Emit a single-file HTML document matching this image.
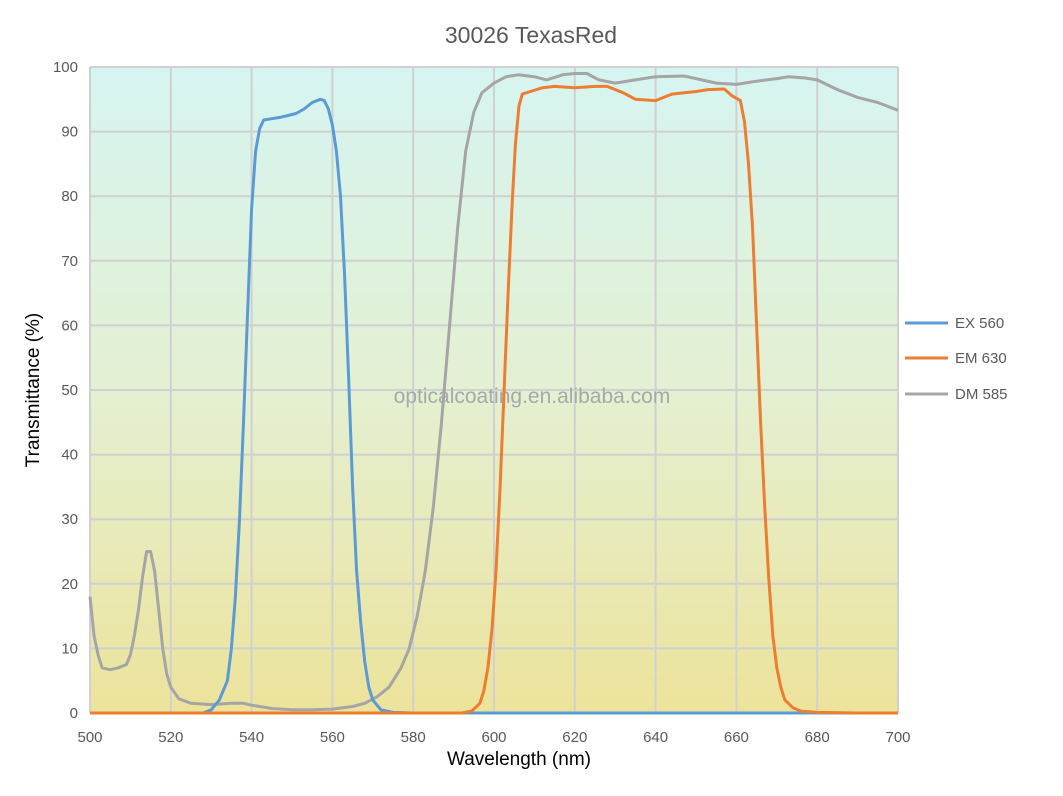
<!DOCTYPE html>
<html><head><meta charset="utf-8"><style>
body{margin:0;background:#fff;width:1063px;height:791px;overflow:hidden}
svg text{font-family:"Liberation Sans",sans-serif;fill:#595959}
</style></head><body>
<svg id="s" width="1063" height="791" xmlns="http://www.w3.org/2000/svg">
<defs><linearGradient id="g" x1="0" y1="0" x2="0" y2="1">
<stop offset="0" stop-color="#d6f4f1"/><stop offset="0.5" stop-color="#e4f0d2"/><stop offset="1" stop-color="#ece39b"/></linearGradient></defs>
<rect x="90" y="67" width="808" height="646" fill="url(#g)"/>
<g id="grid" stroke="#d0d0d0" stroke-width="2"></g>
<text x="531" y="43" font-size="23" text-anchor="middle">30026 TexasRed</text>
<text x="532" y="403" font-size="21" text-anchor="middle" fill="#a8a8a8" style="fill:#a8a8a8">opticalcoating.en.alibaba.com</text>
<text x="519" y="765" font-size="19" text-anchor="middle" style="fill:#000">Wavelength (nm)</text>
<text transform="translate(39,390) rotate(-90)" font-size="19" text-anchor="middle" style="fill:#000">Transmittance (%)</text>
<g id="lab" font-size="15"></g>
<g id="cur" fill="none" stroke-width="3" stroke-linejoin="round"></g>
<g font-size="15">
<line x1="905" y1="323" x2="948" y2="323" stroke="#5b9bd5" stroke-width="3"/><text x="955" y="328">EX 560</text>
<line x1="905" y1="358" x2="948" y2="358" stroke="#ed7d31" stroke-width="3"/><text x="955" y="363">EM 630</text>
<line x1="905" y1="394" x2="948" y2="394" stroke="#a5a5a5" stroke-width="3"/><text x="955" y="399">DM 585</text>
</g>
</svg>
<script>
var X=w=>90+(w-500)*4.04,Y=t=>713-t*6.46,ns="http://www.w3.org/2000/svg";
var grid=document.getElementById('grid'),lab=document.getElementById('lab');
function el(p,t,a,txt){var e=document.createElementNS(ns,t);for(var k in a)e.setAttribute(k,a[k]);if(txt!=null)e.textContent=txt;p.appendChild(e);return e}
for(var w=500;w<=700;w+=20){el(grid,'line',{x1:X(w),y1:67,x2:X(w),y2:713});el(lab,'text',{x:X(w),y:742,'text-anchor':'middle'},w)}
for(var t=0;t<=100;t+=10){el(grid,'line',{x1:90,y1:Y(t),x2:898,y2:Y(t)});el(lab,'text',{x:78,y:Y(t)+5,'text-anchor':'end'},t)}
var ex=[[500,0],[528,0],[530,.5],[532,2],[534,5],[535,10],[536,18],[537,30],[538,45],[539,62],[540,78],[541,87],[542,90.5],[543,91.8],[545,92],[547,92.2],[549,92.5],[551,92.8],[553,93.5],[555,94.5],[557,95],[558,94.8],[559,93.5],[560,91],[561,87],[562,80],[563,68],[564,52],[565,35],[566,22],[567,14],[568,8],[569,4],[570,2],[572,.5],[575,.1],[580,0],[700,0]];
var em=[[500,0],[592,0],[594.5,.3],[596.5,1.5],[597.5,3.5],[598.5,7],[599.5,13],[600.5,22],[601.5,35],[602.5,50],[603.5,65],[604.5,79],[605.3,88],[606.2,94],[607,95.8],[609,96.2],[612,96.8],[615,97],[620,96.8],[625,97],[628,97],[632,96],[635,95],[640,94.8],[644,95.8],[650,96.2],[653,96.5],[657,96.6],[659,95.5],[661,94.8],[662,91.5],[663,85],[664,75],[665,60],[666,45],[667,32],[668,21],[669,12],[670,7],[671,4],[672,2],[674,.8],[676,.3],[680,.1],[690,0],[700,0]];
var dm=[[500,18],[501,12],[502,9],[503,7],[505,6.7],[507,7],[509,7.5],[510,9],[511,12],[512,16],[513,21],[514,25],[515,25],[516,22],[517,16],[518,10],[519,6],[520,4],[522,2.2],[525,1.5],[530,1.3],[535,1.5],[538,1.5],[540,1.2],[545,.7],[550,.5],[555,.5],[560,.6],[565,1],[568,1.5],[571,2.5],[574,4],[577,7],[579,10],[581,15],[583,22],[585,32],[587,45],[589,60],[591,75],[593,87],[595,93],[597,96],[600,97.5],[603,98.5],[606,98.8],[610,98.5],[613,98],[617,98.8],[620,99],[623,99],[626,98],[630,97.5],[635,98],[640,98.5],[647,98.6],[650,98.2],[655,97.5],[660,97.3],[665,97.8],[670,98.2],[673,98.5],[677,98.3],[680,98],[685,96.5],[690,95.3],[695,94.5],[700,93.3]];
var cur=document.getElementById('cur');
[[dm,'#a5a5a5'],[ex,'#5b9bd5'],[em,'#ed7d31']].forEach(function(c){el(cur,'polyline',{points:c[0].map(p=>X(p[0]).toFixed(1)+','+Y(p[1]).toFixed(1)).join(' '),stroke:c[1]})});
</script>
</body></html>
